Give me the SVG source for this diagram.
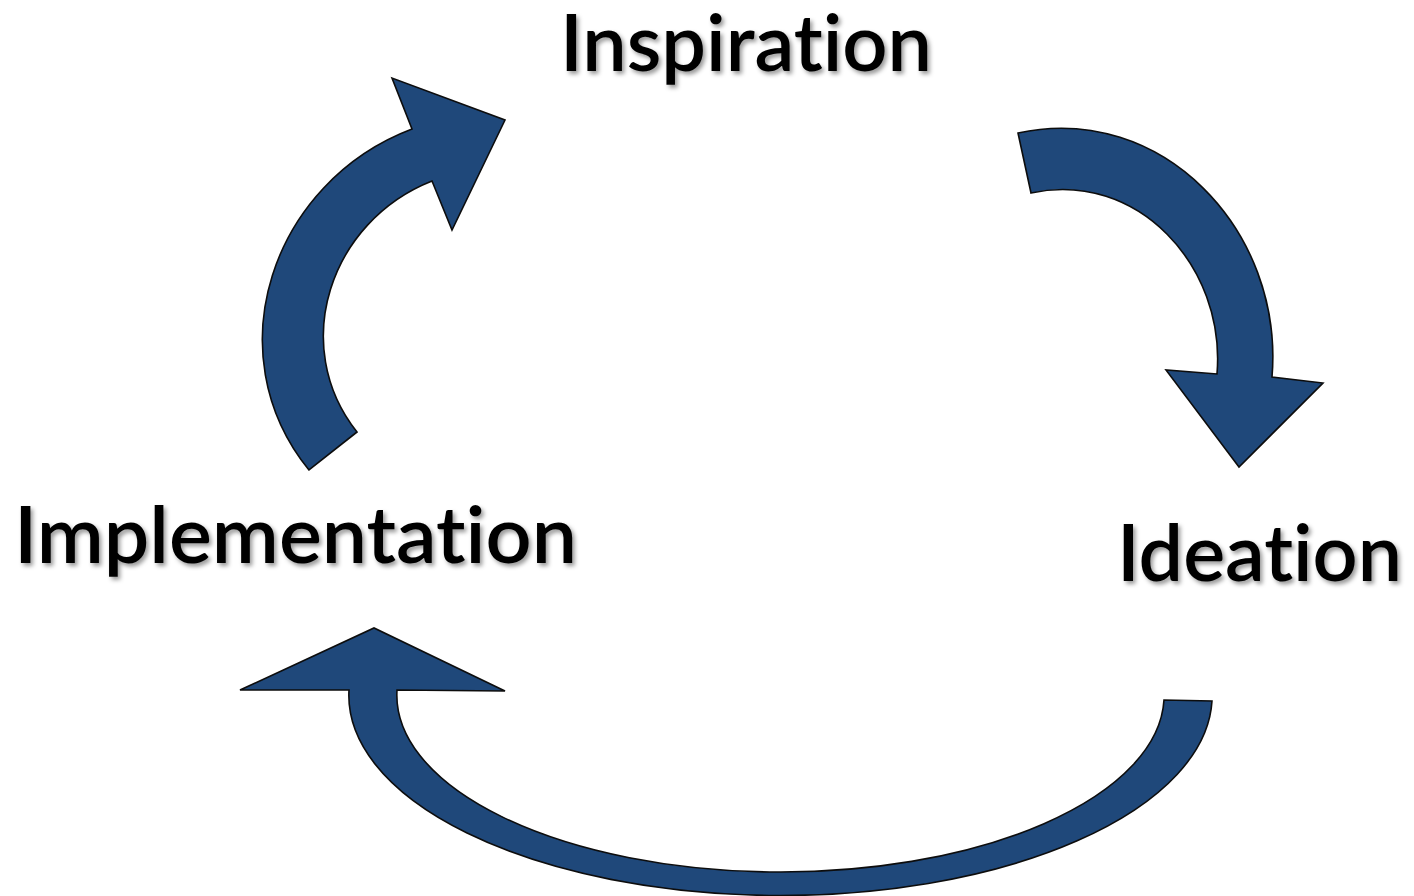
<svg xmlns="http://www.w3.org/2000/svg" width="1414" height="896" viewBox="0 0 1414 896">
  <defs>
    <filter id="shadow" filterUnits="userSpaceOnUse" x="0" y="0" width="1414" height="896">
      <feDropShadow dx="2.5" dy="3" stdDeviation="2" flood-color="#000" flood-opacity="0.4"/>
    </filter>
  </defs>
  <style>
    .label { font-family: Lato, "Open Sans", "Liberation Sans", sans-serif; font-size: 78px; font-weight: 600; fill: #000; font-variant-ligatures: none; font-feature-settings: "liga" 0, "clig" 0; }
    .arrow { fill: #1F487A; stroke: #0d0d0d; stroke-width: 1.6; stroke-linejoin: miter; }
  </style>
  <rect width="1414" height="896" fill="#ffffff"/>

  <g id="connectors">
    <path id="arrow-implementation-inspiration" class="arrow"
      d="M 309,470 C 214,353 272,182 412,129 L 392,78 L 505,120 L 452,230 L 432,181 C 329.7,221.4 288.7,345.8 357,432 Z"/>
    <path id="arrow-inspiration-ideation" class="arrow"
      d="M 1018,133 C 1161.6,101.8 1284.2,230.4 1272,377 L 1323,383 L 1239,467 L 1166,370 L 1217,374 C 1226,265.8 1137,170 1031,193 Z"/>
    <path id="arrow-ideation-implementation" class="arrow"
      d="M 240,690 L 374,628 L 505,691 L 397,690 A 383.5 177 0 0 0 1164,700 L 1212,701 A 431.5 200 0 0 1 349,690 Z"/>
  </g>

  <g id="node-inspiration" filter="url(#shadow)">
    <text class="label" x="560" y="71" textLength="372" lengthAdjust="spacingAndGlyphs">Inspiration</text>
  </g>
  <g id="node-implementation" filter="url(#shadow)">
    <text class="label" x="14" y="563" textLength="563" lengthAdjust="spacingAndGlyphs">Implementation</text>
  </g>
  <g id="node-ideation" filter="url(#shadow)">
    <text class="label" x="1117" y="581" textLength="285" lengthAdjust="spacingAndGlyphs">Ideation</text>
  </g>
</svg>
